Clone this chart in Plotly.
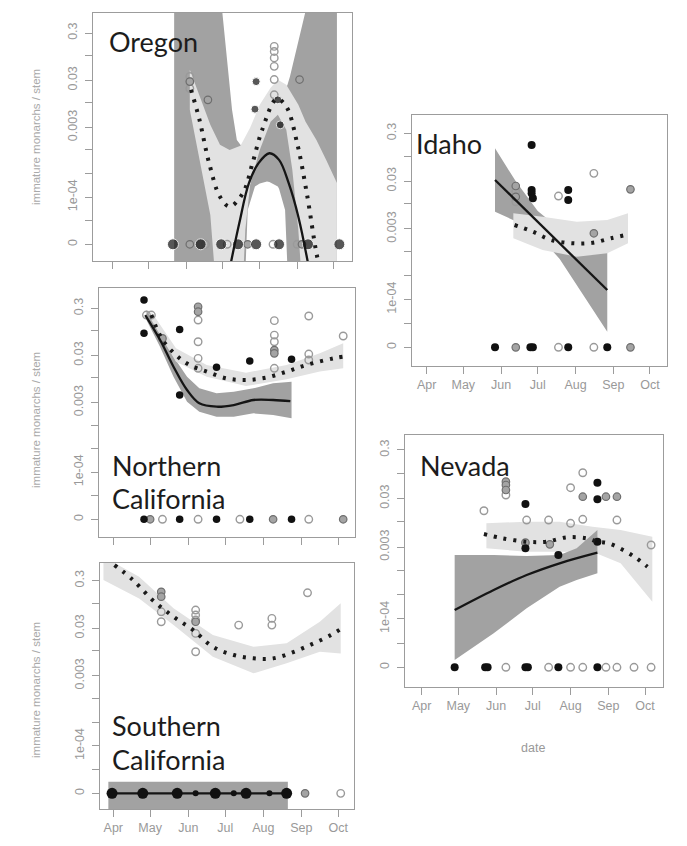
import plotly.graph_objects as go

YEAR = "2017-"
ZERO_AT = 1e-5      # where the axis label "0" sits on the log axis
MONTHS = ["Apr", "May", "Jun", "Jul", "Aug", "Sep", "Oct"]
MONTH_STARTS = ["04-01", "05-01", "06-01", "07-01", "08-01", "09-01", "10-01"]
Y_TICK_VALUES = [1e-5, 3.162e-5, 1e-4, 3.162e-4, 1e-3, 3e-3, 1e-2, 3e-2, 1e-1, 3e-1]
Y_TICK_TEXT = ["0", "", "1e-04", "", "", "0.003", "", "0.03", "", "0.3"]
LOW = 1e-7   # band edge beyond the bottom of the axis
HIGH = 3.0   # band edge beyond the top of the axis

# ---------------- Oregon ----------------
ORE_BLACK_X = ["05-21", "06-13", "06-30", "07-14", "07-29", "08-17", "09-10", "10-06",
               "07-29", "07-28", "08-16", "08-18"]
ORE_BLACK_Y = [0, 0, 0, 0, 0, 0, 0, 0, 0.028, 0.0073, 0.0115, 0.0034]
ORE_GRAY_X = ["06-04", "07-22", "09-05", "06-19", "09-03", "06-04"]
ORE_GRAY_Y = [0, 0, 0, 0.0115, 0.031, 0.028]
ORE_OPEN_X = ["06-17", "07-05", "08-12", "09-01", "06-04", "06-04", "06-04",
              "08-13", "08-13", "08-13", "08-13", "08-13", "08-13"]
ORE_OPEN_Y = [0, 0, 0, 0, 0.036, 0.028, 0.020, 0.156, 0.122, 0.089, 0.059, 0.031, 0.0147]
ORE_SOLID_X = ["07-08", "07-15", "07-23", "07-31", "08-09", "08-17", "08-25", "09-02", "09-10"]
ORE_SOLID_Y = [4e-6, 2.79e-5, 1.97e-4, 5.24e-4, 8.5e-4, 6.15e-4, 1.97e-4, 3.85e-5, 4e-6]
ORE_DOT_X = ["06-05", "06-12", "06-20", "06-29", "07-07", "07-18", "07-26", "08-03",
             "08-15", "08-23", "09-01", "09-09", "09-17", "09-20"]
ORE_DOT_Y = [0.0188, 0.00434, 5.24e-4, 1.02e-4, 6.3e-5, 1.21e-4, 5.24e-4, 0.00266,
             0.0120, 0.0083, 0.00139, 1.21e-4, 6.5e-6, 3e-6]
ORE_DARK_X = ["05-22", "06-25", "07-01", "07-05", "07-09", "07-13", "07-18", "07-19",
              "07-22", "07-28", "08-01", "08-07", "08-09", "08-16", "08-17", "08-22",
              "08-24", "08-26", "09-01", "09-07", "09-13", "10-04"]
ORE_DARK_HI = [HIGH, HIGH, 0.8, 0.081, 0.0071, 0.00163, 0.0011, 0.0011, 0.0012, 0.0018,
               0.00266, 0.0045, 0.00554, 0.0095, 0.01153, 0.018, 0.024, 0.0355, 0.169,
               0.8, HIGH, HIGH]
ORE_DARK_LO = [LOW, LOW, LOW, LOW, LOW, LOW, LOW, 3e-6, 5.35e-5, 1.67e-4, 1.95e-4,
               2.13e-4, 2.1e-4, 1.67e-4, 1.5e-4, 5.35e-5, 3e-6, LOW, LOW, LOW, LOW, LOW]
ORE_LIGHT_X = ["06-04", "06-12", "06-21", "06-29", "07-07", "07-16", "07-20", "07-24",
               "08-01", "08-10", "08-16", "08-23", "08-28", "09-02", "09-08", "09-17",
               "09-25", "10-04"]
ORE_LIGHT_HI = [0.0499, 0.0147, 0.0034, 0.00128, 0.001, 0.00122, 0.0019, 0.00294,
                0.00903, 0.0207, 0.0306, 0.024, 0.0147, 0.00903, 0.00394, 0.00163,
                6.15e-4, 2.0e-4]
ORE_LIGHT_LO = [0.0071, 6.15e-4, 4.19e-5, LOW, LOW, LOW, 2.0e-5, 1.81e-4, 0.001,
                0.00394, 0.00554, 0.00266, 3.78e-4, 2.0e-5, LOW, LOW, LOW, LOW]

# ---------------- Idaho ----------------
IDA_BLACK_X = ["05-27", "06-25", "06-27", "07-26", "08-27",
               "06-26", "06-26", "06-26", "06-27", "07-26", "07-26"]
IDA_BLACK_Y = [0, 0, 0, 0, 0, 0.171, 0.0195, 0.0167, 0.0131, 0.0195, 0.0121]
IDA_GRAY_X = ["06-13", "09-15", "06-13", "06-13", "09-15", "08-16"]
IDA_GRAY_Y = [0, 0, 0.0237, 0.0141, 0.0202, 0.00243]
IDA_OPEN_X = ["07-18", "08-16", "06-13", "06-13", "07-18", "08-16"]
IDA_OPEN_Y = [0, 0, 0.018, 0.0111, 0.0146, 0.0436]
IDA_SOLID_X = ["05-27", "08-27"]
IDA_SOLID_Y = [0.0316, 1.58e-4]
IDA_DOT_X = ["06-12", "06-27", "07-12", "07-30", "08-15", "08-30", "09-11"]
IDA_DOT_Y = [0.00362, 0.00262, 0.00176, 0.0015, 0.00154, 0.00191, 0.00223]
IDA_DARK_X = ["05-27", "06-13", "07-01", "07-19", "08-06", "08-27"]
IDA_DARK_HI = [0.1456, 0.0297, 0.0071, 0.00298, 0.00187, 0.00118]
IDA_DARK_LO = [0.00687, 0.00433, 0.00231, 7.03e-4, 1.44e-4, 2.12e-5]
IDA_LIGHT_X = ["06-11", "07-05", "08-02", "08-27", "09-13"]
IDA_LIGHT_HI = [0.00635, 0.0054, 0.00424, 0.0046, 0.00635]
IDA_LIGHT_LO = [0.00191, 0.00109, 7.86e-4, 9.26e-4, 0.0015]

# ---------------- Northern California ----------------
NCA_BLACK_X = ["04-26", "05-25", "06-24", "07-21", "08-24",
               "04-26", "04-26", "05-25", "05-25", "06-24", "07-21", "08-24"]
NCA_BLACK_Y = [0, 0, 0, 0, 0, 0.45, 0.0883, 0.107, 0.00434, 0.0168, 0.0229, 0.0248]
NCA_GRAY_X = ["05-01", "08-09", "10-05", "05-11", "06-09", "06-09", "08-10", "08-10"]
NCA_GRAY_Y = [0, 0, 0, 0.069, 0.324, 0.254, 0.039, 0.0332]
NCA_OPEN_X = ["05-11", "06-09", "07-13", "09-07", "04-28", "05-02", "06-09", "06-09",
              "06-09", "06-09", "08-10", "08-10", "08-10", "08-10", "09-07", "09-07",
              "09-07", "10-05"]
NCA_OPEN_Y = [0, 0, 0, 0, 0.216, 0.216, 0.169, 0.0586, 0.026, 0.016, 0.164, 0.081,
              0.0586, 0.016, 0.206, 0.0321, 0.024, 0.0776]
NCA_SOLID_X = ["04-27", "05-09", "05-20", "05-31", "06-10", "06-24", "07-08", "07-24",
               "08-09", "08-23"]
NCA_SOLID_Y = [0.216, 0.0646, 0.0173, 0.00554, 0.00289, 0.00245, 0.00266, 0.0034,
               0.0034, 0.00323]
NCA_DOT_X = ["05-02", "05-11", "05-22", "06-02", "06-16", "07-02", "07-18", "08-03",
             "08-20", "09-05", "09-27", "10-05"]
NCA_DOT_Y = [0.216, 0.0646, 0.0307, 0.0188, 0.0136, 0.0098, 0.00904, 0.0101, 0.0136,
             0.0188, 0.026, 0.0282]
NCA_DARK_X = ["04-28", "05-09", "05-20", "05-31", "06-10", "06-24", "07-08", "07-24",
              "08-09", "08-24"]
NCA_DARK_HI = [0.276, 0.0885, 0.0282, 0.0106, 0.00602, 0.00471, 0.00509, 0.00602,
               0.00769, 0.0083]
NCA_DARK_LO = [0.169, 0.0459, 0.0106, 0.00313, 0.00192, 0.0015, 0.0015, 0.00177,
               0.00163, 0.00139]
NCA_LIGHT_X = ["05-02", "05-22", "06-16", "07-18", "08-20", "09-16", "10-05"]
NCA_LIGHT_HI = [0.254, 0.0425, 0.0188, 0.0129, 0.0188, 0.0333, 0.0542]
NCA_LIGHT_LO = [0.169, 0.0221, 0.0106, 0.00673, 0.00933, 0.0136, 0.016]

# ---------------- Southern California ----------------
SCA_BLACK_X = ["03-31", "04-25", "05-23", "06-23", "07-18", "08-20"]
SCA_BLACK_Y = [0, 0, 0, 0, 0, 0]
SCA_SMALL_X = ["06-07", "07-08", "08-06"]
SCA_SMALL_Y = [0, 0, 0]
SCA_GRAY_X = ["09-04", "05-10", "05-10", "06-07"]
SCA_GRAY_Y = [0, 0.175, 0.138, 0.041]
SCA_OPEN_X = ["10-03", "05-10", "05-10", "06-07", "06-07", "06-07", "06-07", "06-07",
              "07-12", "08-08", "08-08", "09-06"]
SCA_OPEN_Y = [0, 0.0665, 0.041, 0.0723, 0.0567, 0.0445, 0.0233, 0.00957, 0.0349,
              0.0483, 0.0349, 0.167]
SCA_SOLID_X = ["03-30", "08-21"]
SCA_SOLID_Y = [0, 0]
SCA_DOT_X = ["04-02", "04-17", "05-03", "05-20", "06-05", "06-21", "07-08", "07-24",
             "08-09", "08-26", "09-11", "09-25", "10-04"]
SCA_DOT_Y = [0.64, 0.31, 0.117, 0.0522, 0.0274, 0.0122, 0.00816, 0.00695, 0.00695,
             0.00957, 0.0144, 0.0215, 0.0298]
SCA_DARK_X = ["03-28", "08-21"]
SCA_DARK_HI = [1.75e-5, 1.75e-5]
SCA_DARK_LO = [LOW, LOW]
SCA_LIGHT_X = ["03-24", "04-22", "05-20", "06-21", "07-24", "08-20", "09-16", "10-03"]
SCA_LIGHT_HI = [0.957, 0.363, 0.0785, 0.0215, 0.0122, 0.0144, 0.041, 0.1]
SCA_LIGHT_LO = [0.31, 0.127, 0.0349, 0.0075, 0.00336, 0.00546, 0.00957, 0.00885]

# ---------------- Nevada ----------------
NEV_BLACK_X = ["04-28", "05-23", "05-25", "06-25", "06-27", "07-22", "08-23",
               "06-25", "06-25", "07-22", "08-23", "08-23", "08-23"]
NEV_BLACK_Y = [0, 0, 0, 0, 0, 0, 0, 0.0231, 0.00283, 0.00206, 0.0635, 0.0289, 0.00387]
NEV_GRAY_X = ["06-09", "06-09", "06-09", "06-25", "07-15", "08-11", "08-30", "09-08"]
NEV_GRAY_Y = [0.0667, 0.057, 0.045, 0.00369, 0.00342, 0.0327, 0.0327, 0.0327]
NEV_OPEN_X = ["06-09", "07-14", "08-01", "08-11", "08-30", "09-08", "09-22", "10-06",
              "05-22", "06-09", "06-26", "07-14", "08-01", "08-01", "08-11", "08-11",
              "09-08", "10-06"]
NEV_OPEN_Y = [0, 0, 0, 0, 0, 0, 0, 0, 0.0168, 0.0355, 0.0108, 0.0108, 0.0501, 0.00927,
              0.102, 0.0112, 0.0108, 0.00331]
NEV_SOLID_X = ["04-28", "05-30", "06-26", "07-23", "08-23"]
NEV_SOLID_Y = [1.51e-4, 3.91e-4, 7.96e-4, 0.00139, 0.0023]
NEV_DOT_X = ["05-22", "06-06", "06-26", "07-12", "07-29", "08-14", "08-23", "09-01",
             "09-13", "09-24", "10-03"]
NEV_DOT_Y = [0.00557, 0.00455, 0.00387, 0.00387, 0.00477, 0.00455, 0.00387, 0.00359,
             0.00261, 0.00176, 0.00118]
NEV_DARK_X = ["04-28", "05-30", "06-26", "07-23", "08-06", "08-23"]
NEV_DARK_HI = [0.00206, 0.00206, 0.00196, 0.00206, 0.00283, 0.00675]
NEV_DARK_LO = [1.41e-5, 5.01e-5, 1.64e-4, 4.57e-4, 6.28e-4, 8.65e-4]
NEV_LIGHT_X = ["05-24", "06-26", "07-23", "08-19", "09-11", "10-07"]
NEV_LIGHT_HI = [0.00927, 0.01, 0.01, 0.00789, 0.00675, 0.00491]
NEV_LIGHT_LO = [0.00283, 0.0024, 0.0024, 0.0024, 0.00139, 2.24e-4]

# ---------------- styling / layout ----------------
PAGE_MARGIN = 8          # the html body margin the browser adds around the figure
W, H = 687 - 2 * PAGE_MARGIN, 846 - 2 * PAGE_MARGIN
DARK = "#a2a2a2"
LIGHT = "#e2e2e2"
AXIS_GRAY = "#9c9c9c"
LABEL_FONT = "Lato"


def px_x(p):
    return (p - PAGE_MARGIN) / W


def px_y(p):
    return 1 - (p - PAGE_MARGIN) / H


def d(lst):
    return [YEAR + s for s in lst]


def yv(lst):
    return [v if v > 0 else ZERO_AT for v in lst]


fig = go.Figure()


def band(k, xs, hi, lo, color):
    fig.add_trace(go.Scatter(
        x=d(xs) + d(xs)[::-1], y=list(hi) + list(lo)[::-1], fill="toself",
        fillcolor=color, mode="lines", line=dict(width=0, color=color),
        hoverinfo="skip", showlegend=False, xaxis="x%d" % k, yaxis="y%d" % k))


def pts(k, xs, ys, kind, size=7.5):
    if kind == "black":
        m = dict(symbol="circle", color="#111111", size=size, line=dict(width=0))
    elif kind == "gray":
        m = dict(symbol="circle", color="#a4a4a4", size=size,
                 line=dict(width=1.2, color="#6e6e6e"))
    else:
        m = dict(symbol="circle-open", color="#9a9a9a", size=size, line=dict(width=1.4))
    fig.add_trace(go.Scatter(x=d(xs), y=yv(ys), mode="markers", marker=m,
                             showlegend=False, xaxis="x%d" % k, yaxis="y%d" % k))


def solid(k, xs, ys, spline=True):
    fig.add_trace(go.Scatter(x=d(xs), y=yv(ys), mode="lines",
                             line=dict(color="#151515", width=2.3,
                                       shape="spline" if spline else "linear"),
                             showlegend=False, xaxis="x%d" % k, yaxis="y%d" % k))


def dotted(k, xs, ys):
    fig.add_trace(go.Scatter(x=d(xs), y=yv(ys), mode="lines",
                             line=dict(color="#1a1a1a", width=4, dash="3px,7px",
                                       shape="spline"),
                             showlegend=False, xaxis="x%d" % k, yaxis="y%d" % k))


# 1 Oregon
band(1, ORE_DARK_X, ORE_DARK_HI, ORE_DARK_LO, DARK)
band(1, ORE_LIGHT_X, ORE_LIGHT_HI, ORE_LIGHT_LO, LIGHT)
pts(1, ORE_OPEN_X, ORE_OPEN_Y, "open")
pts(1, ORE_GRAY_X, ORE_GRAY_Y, "gray")
fig.add_trace(go.Scatter(
    x=d(ORE_BLACK_X), y=yv(ORE_BLACK_Y), mode="markers", showlegend=False,
    marker=dict(color="#111111", size=[11 if v == 0 else 8 for v in ORE_BLACK_Y]),
    xaxis="x1", yaxis="y1"))
solid(1, ORE_SOLID_X, ORE_SOLID_Y)
dotted(1, ORE_DOT_X, ORE_DOT_Y)

# 2 Idaho
band(2, IDA_DARK_X, IDA_DARK_HI, IDA_DARK_LO, DARK)
band(2, IDA_LIGHT_X, IDA_LIGHT_HI, IDA_LIGHT_LO, LIGHT)
pts(2, IDA_OPEN_X, IDA_OPEN_Y, "open")
pts(2, IDA_GRAY_X, IDA_GRAY_Y, "gray")
pts(2, IDA_BLACK_X, IDA_BLACK_Y, "black", 8)
solid(2, IDA_SOLID_X, IDA_SOLID_Y, spline=False)
dotted(2, IDA_DOT_X, IDA_DOT_Y)

# 3 Northern California
band(3, NCA_DARK_X, NCA_DARK_HI, NCA_DARK_LO, DARK)
band(3, NCA_LIGHT_X, NCA_LIGHT_HI, NCA_LIGHT_LO, LIGHT)
pts(3, NCA_OPEN_X, NCA_OPEN_Y, "open")
pts(3, NCA_GRAY_X, NCA_GRAY_Y, "gray")
pts(3, NCA_BLACK_X, NCA_BLACK_Y, "black", 7.5)
solid(3, NCA_SOLID_X, NCA_SOLID_Y)
dotted(3, NCA_DOT_X, NCA_DOT_Y)

# 4 Southern California
band(4, SCA_LIGHT_X, SCA_LIGHT_HI, SCA_LIGHT_LO, LIGHT)
band(4, SCA_DARK_X, SCA_DARK_HI, SCA_DARK_LO, DARK)
pts(4, SCA_OPEN_X, SCA_OPEN_Y, "open")
pts(4, SCA_GRAY_X, SCA_GRAY_Y, "gray")
solid(4, SCA_SOLID_X, SCA_SOLID_Y, spline=False)
pts(4, SCA_BLACK_X, SCA_BLACK_Y, "black", 11)
pts(4, SCA_SMALL_X, SCA_SMALL_Y, "black", 6)
dotted(4, SCA_DOT_X, SCA_DOT_Y)

# 5 Nevada
band(5, NEV_LIGHT_X, NEV_LIGHT_HI, NEV_LIGHT_LO, LIGHT)
band(5, NEV_DARK_X, NEV_DARK_HI, NEV_DARK_LO, DARK)
pts(5, NEV_OPEN_X, NEV_OPEN_Y, "open")
pts(5, NEV_GRAY_X, NEV_GRAY_Y, "gray")
pts(5, NEV_BLACK_X, NEV_BLACK_Y, "black", 8)
solid(5, NEV_SOLID_X, NEV_SOLID_Y)
dotted(5, NEV_DOT_X, NEV_DOT_Y)

# panel boxes in page pixels: left, right, top, bottom ; x range ; log10 y range ; month labels
PANELS = {
    1: ((93, 352, 13, 261), ["2017-03-15 16:48", "2017-10-16 12:00"], [-5.354, -0.099], False),
    2: ((411.7, 667.3, 115, 366), ["2017-03-19 16:48", "2017-10-15 04:48"], [-5.391, -0.140], True),
    3: ((99, 355, 288, 537), ["2017-03-20 09:36", "2017-10-14 14:24"], [-5.376, -0.092], False),
    4: ((100, 354, 563, 809), ["2017-03-21 04:48", "2017-10-13 19:12"], [-5.33, -0.150], True),
    5: ((405, 663.3, 435, 687), ["2017-03-18 07:12", "2017-10-16 00:00"], [-5.406, -0.214], True),
}

layout = dict(
    width=W, height=H, autosize=False,
    margin=dict(l=0, r=0, t=0, b=0, pad=0),
    paper_bgcolor="white", plot_bgcolor="white",
    showlegend=False,
)
for k, ((l, r, t, b), xr, yr, showx) in PANELS.items():
    layout["xaxis%d" % k] = dict(
        domain=[px_x(l), px_x(r)], anchor="y%d" % k, type="date", range=xr,
        tickvals=d(MONTH_STARTS), ticktext=MONTHS, showticklabels=showx,
        ticks="outside", ticklen=7, tickwidth=1, tickcolor=AXIS_GRAY,
        showline=True, mirror=True, linecolor=AXIS_GRAY, linewidth=1.3,
        showgrid=False, zeroline=False,
        tickfont=dict(family="Liberation Sans", size=12.5, color="#999999"))
    layout["yaxis%d" % k] = dict(
        domain=[px_y(b), px_y(t)], anchor="x%d" % k, type="log", range=yr,
        tickvals=Y_TICK_VALUES, ticktext=Y_TICK_TEXT, tickangle=-90,
        ticks="outside", ticklen=7, tickwidth=1, tickcolor=AXIS_GRAY,
        showline=True, mirror=True, linecolor=AXIS_GRAY, linewidth=1.3,
        showgrid=False, zeroline=False, ticklabelstandoff=3,
        tickfont=dict(family="Liberation Sans", size=12.5, color="#999999"))

ann = []
TITLES = [("Oregon", 107, 41), ("Idaho", 414, 143), ("Northern", 110, 465),
          ("California", 110, 498), ("Southern", 110, 725), ("California", 110, 759),
          ("Nevada", 418, 465)]
for txt, px, py in TITLES:
    ann.append(dict(text=txt, x=px_x(px), y=px_y(py), xref="paper", yref="paper",
                    xanchor="left", yanchor="middle", showarrow=False,
                    font=dict(family=LABEL_FONT, size=27, color="#1c1c1c")))
for py in (137, 420, 690):
    ann.append(dict(text="immature monarchs / stem", x=px_x(36), y=px_y(py),
                    xref="paper", yref="paper", textangle=-90, showarrow=False,
                    xanchor="center", yanchor="middle",
                    font=dict(family="Liberation Sans", size=11.5, color="#aaaaaa")))
ann.append(dict(text="date", x=px_x(533), y=px_y(748), xref="paper", yref="paper",
                showarrow=False, xanchor="center", yanchor="middle",
                font=dict(family="Liberation Sans", size=12.5, color="#999999")))
layout["annotations"] = ann

fig.update_layout(**layout)
fig.write_html("out.html")
